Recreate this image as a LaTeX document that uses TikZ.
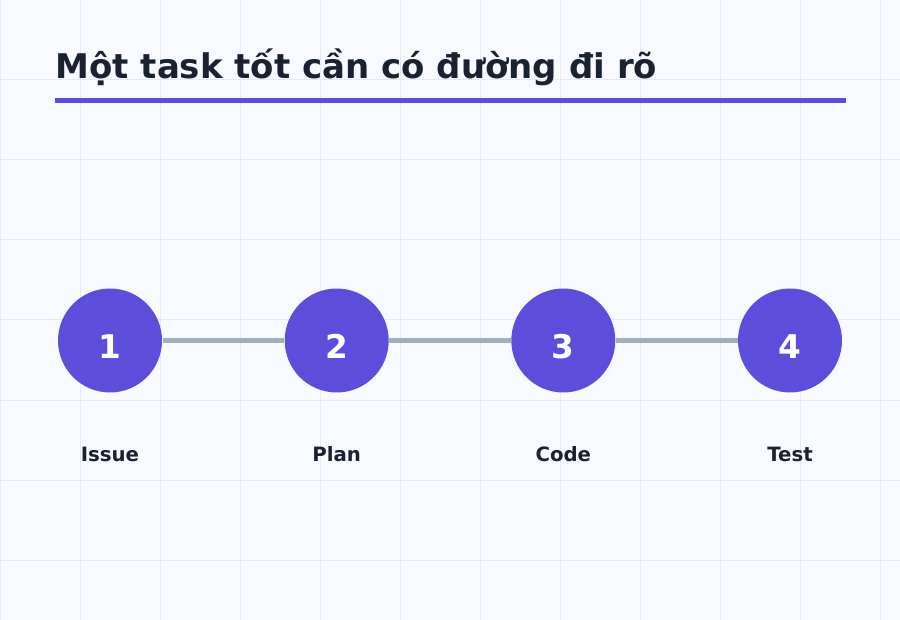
\documentclass[tikz,border=0pt]{standalone}
\usepackage{fontspec}
\setmainfont{DejaVu Sans}
\definecolor{bgpaper}{RGB}{248,250,255}
\definecolor{gridline}{RGB}{229,233,241}
\definecolor{inkdark}{RGB}{26,34,50}
\definecolor{accent}{RGB}{92,78,219}
\definecolor{railgray}{RGB}{160,174,192}
\tikzset{every picture/.style={line width=0.75pt}}
\tikzset{
  stepdot/.style={circle,fill=accent,draw=none,minimum size=104*0.75pt,inner sep=0pt},
  stepnum/.style={text=white,font=\bfseries\fontsize{24.5}{28}\selectfont,anchor=base,inner sep=0pt},
  steplabel/.style={text=inkdark,font=\bfseries\fontsize{14.8}{17}\selectfont,anchor=base,inner sep=0pt},
  rail/.style={draw=railgray,line width=3.75pt}
}
\begin{document}
\begin{tikzpicture}[x=0.75pt,y=0.75pt,yscale=-1,xscale=1]
	\useasboundingbox (0,0) rectangle (900,620);

	%Background
	\fill [bgpaper] (0,0) rectangle (900,620);
	%Grid
	\foreach \gx in {0,80,...,880} {\draw [gridline] (\gx,0) -- (\gx,620);}
	\foreach \gy in {0,80,...,560} {\draw [gridline] (0,\gy) -- (900,\gy);}

	% Title
	\node (title) [anchor=base west,inner sep=0pt,text=inkdark,font=\bfseries\fontsize{25.5}{30}\selectfont] at (55,78.5) {Một task tốt cần có đường đi rõ};
	%Straight Lines (underline)
	\coordinate (ulA) at (55,100.2);
	\coordinate (ulB) at (846,100.2);
	\draw [accent,line width=3.75pt] (ulA) -- (ulB);

	%Circles
	\node (s1) [stepdot] at (110,340.5) {};
	\node (s2) [stepdot] at (336.7,340.5) {};
	\node (s3) [stepdot] at (563.3,340.5) {};
	\node (s4) [stepdot] at (790,340.5) {};

	%Rails
	\draw [rail] (s1) -- (s2);
	\draw [rail] (s2) -- (s3);
	\draw [rail] (s3) -- (s4);

	% Text Node
	\node (n1) [stepnum] at (110,358.5) {1};
	\node (n2) [stepnum] at (336.7,358.5) {2};
	\node (n3) [stepnum] at (563.3,358.5) {3};
	\node (n4) [stepnum] at (790,358.5) {4};

	% Text Node
	\node (l1) [steplabel] at (110,461.5) {Issue};
	\node (l2) [steplabel] at (336.7,461.5) {Plan};
	\node (l3) [steplabel] at (563.3,461.5) {Code};
	\node (l4) [steplabel] at (790,461.5) {Test};

\end{tikzpicture}
\end{document}
